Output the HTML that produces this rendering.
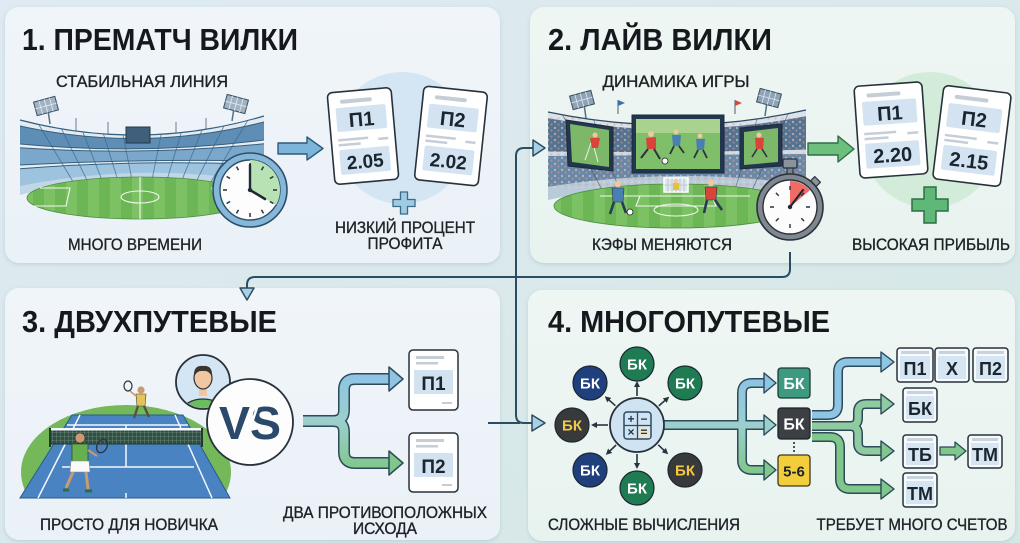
<!DOCTYPE html>
<html><head><meta charset="utf-8"><style>
html,body{margin:0;padding:0;width:1020px;height:543px;overflow:hidden;background:#dde9f0}
svg{display:block}
text{font-family:"Liberation Sans",sans-serif}
.t{font-weight:bold;font-size:31px;fill:#15191d}
.l{font-size:16.5px;fill:#1e2226;stroke:#1e2226;stroke-width:0.35}
.b{font-weight:bold;fill:#1b2530}
.w{font-weight:bold;fill:#fff}
</style></head><body>
<svg width="1020" height="543" viewBox="0 0 1020 543" xmlns="http://www.w3.org/2000/svg">
<defs>
<linearGradient id="bg" x1="0" y1="0" x2="1" y2="1"><stop offset="0" stop-color="#dfeaf2"/><stop offset="1" stop-color="#d5e8e5"/></linearGradient>
<linearGradient id="p1g" x1="0" y1="0" x2="0" y2="1"><stop offset="0" stop-color="#f0f5f9"/><stop offset="1" stop-color="#eaf1f7"/></linearGradient>
<linearGradient id="p2g" x1="0" y1="0" x2="0" y2="1"><stop offset="0" stop-color="#eef6f3"/><stop offset="1" stop-color="#e8f3ef"/></linearGradient>
<linearGradient id="fk3" x1="0" y1="375" x2="0" y2="468" gradientUnits="userSpaceOnUse"><stop offset="0" stop-color="#8ec4e4"/><stop offset="0.5" stop-color="#9ccfcc"/><stop offset="1" stop-color="#80c78c"/></linearGradient>
<linearGradient id="fk4" x1="0" y1="380" x2="0" y2="472" gradientUnits="userSpaceOnUse"><stop offset="0" stop-color="#8ec4e4"/><stop offset="0.5" stop-color="#9ccfcc"/><stop offset="1" stop-color="#80c78c"/></linearGradient>
<filter id="sh" x="-5%" y="-5%" width="110%" height="115%"><feDropShadow dx="0" dy="1.5" stdDeviation="2" flood-color="#6a8aa0" flood-opacity="0.25"/></filter>
<pattern id="stripe" width="22" height="10" patternUnits="userSpaceOnUse"><rect width="11" height="10" fill="#7cc265"/><rect x="11" width="11" height="10" fill="#6db656"/></pattern>
<pattern id="crowd" width="7" height="6" patternUnits="userSpaceOnUse"><circle cx="2" cy="2" r="1.2" fill="#d3dde7"/><circle cx="5.5" cy="4.5" r="1.1" fill="#e59484"/></pattern>
<pattern id="mesh" width="4" height="4" patternUnits="userSpaceOnUse"><rect width="4" height="4" fill="#2f4f42"/><path d="M0,0 H4 M0,0 V4" stroke="#8fa79a" stroke-width="0.6"/></pattern>
<clipPath id="st1"><path d="M20,120 Q142,152 264,116 L264,191 Q142,163 20,195 Z"/></clipPath>
<clipPath id="st2"><path d="M548,112 Q677,139 806,110 L806,198 Q677,171 548,200 Z"/></clipPath>
<clipPath id="tc"><rect x="0" y="380" width="300" height="118"/></clipPath>
<clipPath id="av"><circle cx="203" cy="382" r="26"/></clipPath>
<marker id="ma" markerWidth="6" markerHeight="6" refX="3" refY="3" orient="auto" markerUnits="userSpaceOnUse"><path d="M0,0 L6,3 L0,6 Z" fill="#27343f"/></marker>
</defs>

<rect width="1020" height="543" fill="url(#bg)"/>

<rect x="5" y="7" width="495" height="256" rx="14" fill="url(#p1g)" filter="url(#sh)"/>
<rect x="530" y="7" width="485" height="256" rx="14" fill="url(#p2g)" filter="url(#sh)"/>
<rect x="5" y="288" width="495" height="252" rx="14" fill="url(#p1g)" filter="url(#sh)"/>
<rect x="528" y="290" width="487" height="251" rx="14" fill="url(#p2g)" filter="url(#sh)"/>

<text class="t" x="22" y="50" textLength="276" lengthAdjust="spacingAndGlyphs">1. ПРЕМАТЧ ВИЛКИ</text>
<text class="t" x="548" y="50" textLength="224" lengthAdjust="spacingAndGlyphs">2. ЛАЙВ ВИЛКИ</text>
<text class="t" x="22" y="332" textLength="255" lengthAdjust="spacingAndGlyphs">3. ДВУХПУТЕВЫЕ</text>
<text class="t" x="548" y="332" textLength="282" lengthAdjust="spacingAndGlyphs">4. МНОГОПУТЕВЫЕ</text>

<text class="l" x="142" y="87" text-anchor="middle" textLength="172" lengthAdjust="spacingAndGlyphs">СТАБИЛЬНАЯ ЛИНИЯ</text>
<text class="l" x="135" y="250" text-anchor="middle" textLength="134" lengthAdjust="spacingAndGlyphs">МНОГО ВРЕМЕНИ</text>
<text class="l" x="405" y="233" text-anchor="middle" textLength="140" lengthAdjust="spacingAndGlyphs">НИЗКИЙ ПРОЦЕНТ</text>
<text class="l" x="405" y="249" text-anchor="middle" textLength="75" lengthAdjust="spacingAndGlyphs">ПРОФИТА</text>
<text class="l" x="676" y="87" text-anchor="middle" textLength="147" lengthAdjust="spacingAndGlyphs">ДИНАМИКА ИГРЫ</text>
<text class="l" x="662" y="250" text-anchor="middle" textLength="140" lengthAdjust="spacingAndGlyphs">КЭФЫ МЕНЯЮТСЯ</text>
<text class="l" x="931" y="250" text-anchor="middle" textLength="158" lengthAdjust="spacingAndGlyphs">ВЫСОКАЯ ПРИБЫЛЬ</text>
<text class="l" x="129" y="530" text-anchor="middle" textLength="178" lengthAdjust="spacingAndGlyphs">ПРОСТО ДЛЯ НОВИЧКА</text>
<text class="l" x="385" y="518" text-anchor="middle" textLength="204" lengthAdjust="spacingAndGlyphs">ДВА ПРОТИВОПОЛОЖНЫХ</text>
<text class="l" x="385" y="534" text-anchor="middle" textLength="64" lengthAdjust="spacingAndGlyphs">ИСХОДА</text>
<text class="l" x="644" y="530" text-anchor="middle" textLength="192" lengthAdjust="spacingAndGlyphs">СЛОЖНЫЕ ВЫЧИСЛЕНИЯ</text>
<text class="l" x="912" y="530" text-anchor="middle" textLength="191" lengthAdjust="spacingAndGlyphs">ТРЕБУЕТ МНОГО СЧЕТОВ</text>

<g>
 <line x1="48" y1="110" x2="50" y2="124" stroke="#5b6f80" stroke-width="1.5"/>
 <line x1="234" y1="108" x2="232" y2="121" stroke="#5b6f80" stroke-width="1.5"/>
 <g transform="translate(46,106) rotate(-15)"><rect x="-11" y="-7" width="22" height="14" fill="#9fb3c4" stroke="#3d5060" stroke-width="1"/><path d="M-5.5,-7V7M0,-7V7M5.5,-7V7M-11,0H11" stroke="#e6edf2" stroke-width="0.8"/></g>
 <g transform="translate(236,104) rotate(15)"><rect x="-11" y="-7" width="22" height="14" fill="#9fb3c4" stroke="#3d5060" stroke-width="1"/><path d="M-5.5,-7V7M0,-7V7M5.5,-7V7M-11,0H11" stroke="#e6edf2" stroke-width="0.8"/></g>
 <path d="M76,118V132M108,122V136M176,122V136M206,118V132" stroke="#6b7f90" stroke-width="1"/>
 <g clip-path="url(#st1)">
  <rect x="18" y="110" width="250" height="90" fill="#c0d7e8"/>
  <path d="M20,120 Q142,152 264,116 L264,122 Q142,152.9 20,126 Z" fill="#e3eaf0"/>
  <path d="M20,126 Q142,152.9 264,122 L264,140 Q142,155.5 20,144 Z" fill="#5e8db5"/>
  <path d="M20,144 Q142,155.5 264,140 L264,143.8 Q142,156.1 20,147.8 Z" fill="#e8eef3"/>
  <path d="M20,147.8 Q142,156.1 264,143.8 L264,161 Q142,158.6 20,165 Z" fill="#7ba7cb"/>
  <path d="M20,165 Q142,158.6 264,161 L264,164.8 Q142,159.2 20,168.8 Z" fill="#e8eef3"/>
  <path d="M20,168.8 Q142,159.2 264,164.8 L264,182 Q142,161.7 20,186 Z" fill="#9ec3df"/>
  <g stroke="#3b6a8f" stroke-width="0.9" opacity="0.75">
   <path d="M30,110L84,200M52,110L97,200M74,110L110,200M96,110L124,200M118,110L136,200M166,110L148,200M188,110L161,200M210,110L174,200M232,110L187,200M254,110L200,200"/>
  </g>
  <g fill="none" stroke="#35607f" stroke-width="1">
   <path d="M20,126 Q142,152.9 264,122"/><path d="M20,144 Q142,155.5 264,140"/><path d="M20,147.8 Q142,156.1 264,143.8"/><path d="M20,165 Q142,158.6 264,161"/><path d="M20,168.8 Q142,159.2 264,164.8"/>
  </g>
 </g>
 <path d="M20,120 Q142,152 264,116" fill="none" stroke="#35607f" stroke-width="1.2"/>
 <rect x="126" y="127" width="24" height="16" fill="#3f5f7a" stroke="#22384a" stroke-width="1"/>
 <ellipse cx="140" cy="198" rx="113" ry="21" fill="url(#stripe)" stroke="#4e8d3e" stroke-width="0.8"/>
 <g fill="none" stroke="#f2f7ee" stroke-width="1.1">
  <line x1="140" y1="177" x2="140" y2="219"/>
  <ellipse cx="140" cy="197" rx="19" ry="6"/>
  <path d="M40,188 H70 L66,206 H34"/><path d="M240,188 H212 L216,206 H246"/>
 </g>
</g>
<g>
 <circle cx="250" cy="190" r="37" fill="#86b6d8" stroke="#2c4f6a" stroke-width="1.6"/>
 <circle cx="250" cy="190" r="30" fill="#fdfdfd" stroke="#2c4f6a" stroke-width="1.4"/>
 <path d="M250,190 L250,160 A30,30 0 0 1 276,205 Z" fill="#b9e2b4"/>
 <g stroke="#27313b" stroke-width="1.5">
  <path d="M250,167V163M261.5,170.1L263.5,166.6M269.9,178.5L273.4,176.5M273,190H277M269.9,201.5L273.4,203.5M261.5,209.9L263.5,213.4M250,213V217M238.5,209.9L236.5,213.4M230.1,201.5L226.6,203.5M227,190H223M230.1,178.5L226.6,176.5M238.5,170.1L236.5,166.6"/>
 </g>
 <line x1="250" y1="190" x2="250" y2="165" stroke="#1e2a36" stroke-width="2.4" stroke-linecap="round"/>
 <line x1="250" y1="190" x2="265" y2="199" stroke="#1e2a36" stroke-width="2.6" stroke-linecap="round"/>
 <circle cx="250" cy="190" r="2.2" fill="#1e2a36"/>
</g>
<polygon points="278,143 307,143 307,137 323,148.5 307,160 307,154 278,154" fill="#7db4da" stroke="#2f5a78" stroke-width="1.4" stroke-linejoin="round"/>
<circle cx="402" cy="138" r="66" fill="#d4e5f3"/>
<g transform="translate(363,136) rotate(-5)">
 <rect x="-32" y="-46" width="64" height="92" rx="5" fill="#fff" stroke="#27313b" stroke-width="1.6"/>
 <rect x="-20" y="-38" width="32" height="4" rx="2" fill="#c5ced6"/>
 <rect x="-25" y="-30" width="50" height="24" rx="2" fill="#d3e3f1"/>
 <text x="0" y="-10" text-anchor="middle" class="b" font-size="20">П1</text>
 <rect x="-25" y="1" width="30" height="2.5" fill="#c5ced6"/><rect x="-25" y="6" width="22" height="2.5" fill="#c5ced6"/><rect x="15" y="3" width="10" height="2.5" fill="#c5ced6"/>
 <rect x="-25" y="12" width="50" height="25" rx="2" fill="#d3e3f1"/>
 <text x="0" y="32" text-anchor="middle" class="b" font-size="19">2.05</text>
</g>
<g transform="translate(451,136) rotate(6)">
 <rect x="-32" y="-47" width="64" height="94" rx="5" fill="#fff" stroke="#27313b" stroke-width="1.6"/>
 <rect x="-20" y="-39" width="32" height="4" rx="2" fill="#c5ced6"/>
 <rect x="-25" y="-30" width="50" height="24" rx="2" fill="#d3e3f1"/>
 <text x="0" y="-10" text-anchor="middle" class="b" font-size="20">П2</text>
 <rect x="-25" y="1" width="30" height="2.5" fill="#c5ced6"/><rect x="-25" y="6" width="22" height="2.5" fill="#c5ced6"/><rect x="15" y="3" width="10" height="2.5" fill="#c5ced6"/>
 <rect x="-25" y="12" width="50" height="25" rx="2" fill="#d3e3f1"/>
 <text x="0" y="32" text-anchor="middle" class="b" font-size="19">2.02</text>
</g>
<path d="M400.5,192 h7 v7.5 h7.5 v7 h-7.5 v7.5 h-7 v-7.5 h-7.5 v-7 h7.5 z" fill="#9fcbe3" stroke="#3b6b86" stroke-width="1.3"/>

<g>
 <line x1="584" y1="104" x2="586" y2="118" stroke="#5b6f80" stroke-width="1.5"/>
 <line x1="767" y1="102" x2="765" y2="116" stroke="#5b6f80" stroke-width="1.5"/>
 <g transform="translate(582,100) rotate(-15)"><rect x="-11" y="-7" width="22" height="14" fill="#8ea3b6" stroke="#3b4d5e"/><path d="M-5.5,-7V7M0,-7V7M5.5,-7V7M-11,0H11" stroke="#e0e8ee" stroke-width="0.8"/></g>
 <g transform="translate(769,98) rotate(15)"><rect x="-11" y="-7" width="22" height="14" fill="#8ea3b6" stroke="#3b4d5e"/><path d="M-5.5,-7V7M0,-7V7M5.5,-7V7M-11,0H11" stroke="#e0e8ee" stroke-width="0.8"/></g>
 <path d="M618,114V100M735,114V100" stroke="#4a5b6a" stroke-width="1"/>
 <path d="M618,100L625,103L618,106Z" fill="#3a6fa8"/><path d="M735,100L742,103L735,106Z" fill="#d24a3e"/>
 <g clip-path="url(#st2)">
  <rect x="546" y="105" width="262" height="100" fill="#b9cbd9"/>
  <path d="M548,112 Q677,139 806,110 L806,116.2 Q677,141.2 548,118.2 Z" fill="#dbe3ea"/>
  <path d="M548,118.2 Q677,141.2 806,116.2 L806,149.6 Q677,153.4 548,151.6 Z" fill="#55728f"/>
  <path d="M548,151.6 Q677,153.4 806,149.6 L806,154 Q677,155 548,156 Z" fill="#d0dbe4"/>
  <path d="M548,156 Q677,155 806,154 L806,184.8 Q677,166.2 548,186.8 Z" fill="#6a88a6"/>
  <rect x="546" y="116" width="262" height="72" fill="url(#crowd)" opacity="0.55"/>
  <g stroke="#2f4a63" stroke-width="0.8" opacity="0.6"><path d="M560,110L610,205M590,110L625,205M760,110L730,205M790,110L745,205"/></g>
 </g>
 <path d="M548,112 Q677,139 806,110" fill="none" stroke="#2f4a63" stroke-width="1.2"/>
 <polygon points="566,120 613,127 613,171 568,166" fill="#22374d" stroke="#1a2b3c" stroke-width="1"/>
 <polygon points="570,124 609,130 609,167 572,162" fill="#7db868"/>
 <path d="M585,160 L592,140 L598,162" stroke="#f0f0f0" stroke-width="1" fill="none"/>
 <circle cx="595" cy="135" r="2.5" fill="#f0c7a0"/><path d="M590,138 L600,138 L598,148 L592,148Z" fill="#d9443a"/>
 <rect x="632" y="115" width="92" height="58" fill="#22374d" stroke="#1a2b3c" stroke-width="1"/>
 <rect x="636" y="119" width="84" height="50" fill="#7fbf6a"/>
 <rect x="636" y="119" width="84" height="14" fill="#a9d28f"/>
 <g>
  <circle cx="651" cy="134" r="3" fill="#f0c7a0"/><path d="M646,138 L656,137 L656,149 L647,149Z" fill="#d9443a"/>
  <path d="M648,149 L641,158 M654,149 L660,159" stroke="#2a3440" stroke-width="2"/>
  <circle cx="676" cy="132" r="2.5" fill="#f0c7a0"/><path d="M672,135 L681,135 L680,146 L673,146Z" fill="#4a7fb5"/>
  <path d="M674,146 L670,154 M679,146 L684,153" stroke="#2a3440" stroke-width="1.8"/>
  <circle cx="700" cy="136" r="2.5" fill="#f0c7a0"/><path d="M696,139 L705,139 L704,150 L697,150Z" fill="#4a7fb5"/>
  <path d="M698,150 L694,158 M703,150 L707,158" stroke="#2a3440" stroke-width="1.8"/>
  <circle cx="665" cy="161" r="3" fill="#fff" stroke="#222" stroke-width="0.8"/>
 </g>
 <polygon points="740,128 782,124 782,166 740,169" fill="#22374d" stroke="#1a2b3c" stroke-width="1"/>
 <polygon points="744,132 778,128 778,162 744,165" fill="#7db868"/>
 <circle cx="759" cy="135" r="2.5" fill="#f0c7a0"/><path d="M755,138 L764,138 L763,149 L756,149Z" fill="#d9443a"/>
 <path d="M757,149 L752,157 M762,149 L767,157" stroke="#2a3440" stroke-width="1.6"/>
 <ellipse cx="676" cy="206" rx="122" ry="22" fill="url(#stripe)" stroke="#4e8d3e" stroke-width="0.8"/>
 <g fill="none" stroke="#f2f7ee" stroke-width="1.1">
  <ellipse cx="676" cy="210" rx="22" ry="6"/><path d="M600,196 H750 M640,196 L636,206 H716 L712,196"/>
 </g>
 <rect x="664" y="178" width="24" height="14" fill="#dfe7ec" stroke="#fff" stroke-width="1.5"/>
 <path d="M668,178V192M672,178V192M676,178V192M680,178V192M684,178V192M664,185H688" stroke="#a6b4bf" stroke-width="0.6"/>
 <circle cx="676" cy="181" r="2.3" fill="#f0c7a0"/><rect x="673" y="183" width="6" height="7" fill="#e3c13d"/>
 <circle cx="618" cy="184" r="3.2" fill="#f0c7a0"/><path d="M612,188 L624,188 L623,202 L613,202Z" fill="#4a7fb5" stroke="#2a3440" stroke-width="0.6"/>
 <path d="M614,202 L610,214 M622,202 L626,213" stroke="#2a3a55" stroke-width="2.6"/>
 <circle cx="630" cy="212" r="3" fill="#fff" stroke="#222" stroke-width="0.8"/>
 <circle cx="711" cy="183" r="3.2" fill="#f0c7a0"/><path d="M705,187 L717,187 L716,200 L706,200Z" fill="#d9443a" stroke="#2a3440" stroke-width="0.6"/>
 <path d="M707,200 L704,213 M715,200 L722,210" stroke="#2a3a55" stroke-width="2.6"/>
</g>
<g>
 <rect x="783" y="159" width="14" height="9" rx="1.5" fill="#8a939c" stroke="#2b3238" stroke-width="1.3"/>
 <rect x="787" y="168" width="6" height="7" fill="#7c858e" stroke="#2b3238" stroke-width="1.2"/>
 <g transform="rotate(45 790 207)"><rect x="786" y="168" width="8" height="6" fill="#8a939c" stroke="#2b3238" stroke-width="1.2"/></g>
 <circle cx="790" cy="207" r="33" fill="#7f8891" stroke="#2b3238" stroke-width="1.6"/>
 <circle cx="790" cy="207" r="27" fill="#fcfcfc" stroke="#2b3238" stroke-width="1.4"/>
 <path d="M790,207 L790,181 A26,26 0 0 1 809.9,190.3 Z" fill="#ef6b63"/>
 <g stroke="#27313b" stroke-width="1.4">
  <path d="M790,186V190M810,207H806M790,228V224M770,207H774M804.1,192.9L801.3,195.7M804.1,221.1L801.3,218.3M775.9,221.1L778.7,218.3M775.9,192.9L778.7,195.7"/>
 </g>
 <line x1="790" y1="207" x2="803" y2="190" stroke="#1e2a36" stroke-width="2.2" stroke-linecap="round"/>
 <circle cx="790" cy="207" r="2.2" fill="#1e2a36"/>
</g>
<polygon points="808,143 838,143 838,136 854,149 838,162 838,155 808,155" fill="#6dbf7e" stroke="#2e6e44" stroke-width="1.4" stroke-linejoin="round"/>
<circle cx="930" cy="140" r="68" fill="#d3ecd9"/>
<g transform="translate(891,130) rotate(-4)">
 <rect x="-34" y="-46" width="68" height="92" rx="5" fill="#fff" stroke="#27313b" stroke-width="1.6"/>
 <rect x="-22" y="-38" width="34" height="4" rx="2" fill="#c5ced6"/>
 <rect x="-27" y="-30" width="54" height="24" rx="2" fill="#d3e3f1"/>
 <text x="0" y="-10" text-anchor="middle" class="b" font-size="20">П1</text>
 <rect x="-27" y="1" width="32" height="2.5" fill="#c5ced6"/><rect x="-27" y="6" width="24" height="2.5" fill="#c5ced6"/><rect x="16" y="3" width="11" height="2.5" fill="#c5ced6"/>
 <rect x="-27" y="12" width="54" height="25" rx="2" fill="#d3e3f1"/>
 <text x="0" y="32" text-anchor="middle" class="b" font-size="20">2.20</text>
</g>
<g transform="translate(972,136) rotate(7)">
 <rect x="-34" y="-47" width="68" height="94" rx="5" fill="#fff" stroke="#27313b" stroke-width="1.6"/>
 <rect x="-22" y="-39" width="34" height="4" rx="2" fill="#c5ced6"/>
 <rect x="-27" y="-30" width="54" height="24" rx="2" fill="#d3e3f1"/>
 <text x="0" y="-10" text-anchor="middle" class="b" font-size="20">П2</text>
 <rect x="-27" y="1" width="32" height="2.5" fill="#c5ced6"/><rect x="-27" y="6" width="24" height="2.5" fill="#c5ced6"/><rect x="16" y="3" width="11" height="2.5" fill="#c5ced6"/>
 <rect x="-27" y="12" width="54" height="25" rx="2" fill="#d3e3f1"/>
 <text x="0" y="32" text-anchor="middle" class="b" font-size="20">2.15</text>
</g>
<path d="M924,187 h12 v12 h12 v12 h-12 v12 h-12 v-12 h-12 v-12 h12 z" fill="#5fb877" stroke="#2f6e45" stroke-width="1.5"/>

<g clip-path="url(#tc)"><ellipse cx="126" cy="472" rx="105" ry="67" fill="#74b85a"/></g>
<polygon points="72,415 183,415 230,498 20,498" fill="#4a83c2" stroke="#2b5a8a" stroke-width="1"/>
<g stroke="#f4f8fc" stroke-width="1.5" fill="none">
 <path d="M80,415 L38,498 M175,415 L212,498"/>
 <path d="M67,425 H188 M62,467 H194 M126,425 V467 M126,493 V498"/>
</g>
<rect x="50" y="429" width="152" height="15" fill="url(#mesh)" stroke="#1f3a2e" stroke-width="1"/>
<rect x="50" y="428" width="152" height="2.5" fill="#f4f8fc"/>
<path d="M50,428V447M202,428V447" stroke="#1f3a2e" stroke-width="2"/>
<circle cx="141" cy="390" r="3.6" fill="#c99a74"/>
<path d="M136,394 L146,394 L145,406 L137,406Z" fill="#e2c45b" stroke="#4a4030" stroke-width="0.6"/>
<path d="M138,406 L134,418 M144,406 L149,417" stroke="#5b5040" stroke-width="2.4"/>
<path d="M136,396 L130,391" stroke="#c99a74" stroke-width="1.6"/>
<ellipse cx="128" cy="386" rx="4" ry="5" fill="none" stroke="#2a3440" stroke-width="1.2"/>
<circle cx="80" cy="438" r="5" fill="#c99a74" stroke="#3a3028" stroke-width="0.6"/>
<path d="M72,444 L88,444 L88,462 L72,462Z" fill="#66b04f" stroke="#2e4d27" stroke-width="0.8"/>
<path d="M71,461 L89,461 L90,472 L70,472Z" fill="#fafafa" stroke="#8b8b8b" stroke-width="0.6"/>
<path d="M73,472 L66,488 M86,472 L88,489" stroke="#c99a74" stroke-width="3"/>
<path d="M63,490 H69 M85,491 H92" stroke="#2f6e45" stroke-width="3"/>
<path d="M88,450 L97,456" stroke="#c99a74" stroke-width="2"/>
<ellipse cx="102" cy="446" rx="5" ry="7" transform="rotate(25 102 446)" fill="none" stroke="#2a3440" stroke-width="1.3"/>
<circle cx="203" cy="382" r="27" fill="#d4e5f3" stroke="#27313b" stroke-width="1.8"/>
<g clip-path="url(#av)">
 <ellipse cx="203" cy="412" rx="21" ry="13" fill="#6cbd5e" stroke="#27313b" stroke-width="1.2"/>
 <rect x="199" y="388" width="8" height="8" fill="#f0c7a0"/>
</g>
<ellipse cx="203" cy="378" rx="9" ry="11" fill="#f0c7a0" stroke="#27313b" stroke-width="1.2"/>
<path d="M194,377 Q193,365 203,366 Q213,365 212,377 Q209,370 203,371 Q197,370 194,377Z" fill="#3b3530"/>
<circle cx="250" cy="422" r="43" fill="#fdfdfd" stroke="#27313b" stroke-width="1.8"/>
<text x="250" y="439" text-anchor="middle" font-size="46" font-weight="bold" fill="#2b4a6b" textLength="62" lengthAdjust="spacingAndGlyphs">VS</text>
<line x1="262" y1="393" x2="242" y2="452" stroke="#fdfdfd" stroke-width="2.5"/>
<g fill="none" stroke-linejoin="round">
 <path d="M303,421 H333 Q344,421 344,410 V390 Q344,379 355,379 H392 M333,421 Q344,421 344,432 V452 Q344,463 355,463 H392" stroke="#2d4a5a" stroke-width="12"/>
 <path d="M303,421 H333 Q344,421 344,410 V390 Q344,379 355,379 H393 M333,421 Q344,421 344,432 V452 Q344,463 355,463 H393" stroke="url(#fk3)" stroke-width="9"/>
</g>
<polygon points="389,367 403,379 389,391" fill="#8ec4e4" stroke="#2d4a5a" stroke-width="1.5" stroke-linejoin="round"/>
<polygon points="389,451 403,463 389,475" fill="#80c78c" stroke="#2d4a5a" stroke-width="1.5" stroke-linejoin="round"/>
<g>
 <rect x="409" y="350" width="49" height="60" rx="4" fill="#fff" stroke="#27313b" stroke-width="1.5"/>
 <rect x="416" y="356" width="28" height="3" fill="#c5ced6"/><rect x="416" y="362" width="22" height="2.5" fill="#c5ced6"/>
 <rect x="414" y="370" width="39" height="24" fill="#d2e2f0"/>
 <text x="433.5" y="390" text-anchor="middle" class="b" font-size="19">П1</text>
 <rect x="442" y="402" width="10" height="2" fill="#c5ced6"/>
 <rect x="409" y="433" width="49" height="59" rx="4" fill="#fff" stroke="#27313b" stroke-width="1.5"/>
 <rect x="416" y="439" width="28" height="3" fill="#c5ced6"/><rect x="416" y="445" width="22" height="2.5" fill="#c5ced6"/>
 <rect x="414" y="453" width="39" height="24" fill="#d2e2f0"/>
 <text x="433.5" y="473" text-anchor="middle" class="b" font-size="19">П2</text>
 <rect x="442" y="484" width="10" height="2" fill="#c5ced6"/>
</g>

<g fill="none" stroke-linejoin="round">
 <path d="M660,425 H767 M742,425 V393 Q742,383 752,383 H767 M742,425 V460 Q742,470 752,470 H767" stroke="#2d4a5a" stroke-width="10"/>
 <path d="M660,425 H768 M742,425 V393 Q742,383 752,383 H768 M742,425 V460 Q742,470 752,470 H768" stroke="url(#fk4)" stroke-width="7"/>
</g>
<polygon points="764,373 776,383 764,393" fill="#8ec4e4" stroke="#2d4a5a" stroke-width="1.4" stroke-linejoin="round"/>
<polygon points="764,415 776,425 764,435" fill="#9ccfcc" stroke="#2d4a5a" stroke-width="1.4" stroke-linejoin="round"/>
<polygon points="764,460 776,470 764,480" fill="#80c78c" stroke="#2d4a5a" stroke-width="1.4" stroke-linejoin="round"/>
<g stroke="#27343f" stroke-width="1.6" marker-end="url(#ma)">
 <line x1="637" y1="396" x2="637" y2="384"/>
 <line x1="658.8" y1="405.9" x2="667" y2="398.7"/>
 <line x1="658.2" y1="444.8" x2="666" y2="452.2"/>
 <line x1="637" y1="454" x2="637" y2="466"/>
 <line x1="616.1" y1="445" x2="608" y2="452.8"/>
 <line x1="608" y1="425" x2="594" y2="425"/>
 <line x1="615.4" y1="405.7" x2="607" y2="398.2"/>
</g>
<circle cx="637" cy="425" r="27" fill="#cfe3f3" stroke="#27313b" stroke-width="1.8"/>
<rect x="624" y="412" width="27" height="27" rx="3" fill="#cfe3f3" stroke="#2b4a63" stroke-width="1.5"/>
<path d="M637.5,412V439M624,425.5H651" stroke="#2b4a63" stroke-width="1.3"/>
<rect x="638.5" y="426.5" width="11.5" height="11.5" fill="#e9e5cf"/>
<g font-family="Liberation Sans" font-weight="bold" font-size="12" fill="#1f3550" text-anchor="middle">
 <text x="631" y="423">+</text><text x="644" y="423">−</text><text x="631" y="436">×</text><text x="644" y="436">=</text>
</g>
<g stroke="#1c2630" stroke-width="1.2">
 <circle cx="637" cy="364" r="17" fill="#1f7b52"/>
 <circle cx="685" cy="383" r="17" fill="#1f7b52"/>
 <circle cx="685" cy="470" r="17" fill="#38393b"/>
 <circle cx="637" cy="488" r="17" fill="#1f7b52"/>
 <circle cx="590" cy="470" r="17" fill="#1f3f7d"/>
 <circle cx="572" cy="425" r="17" fill="#38393b"/>
 <circle cx="590" cy="383" r="17" fill="#1f3f7d"/>
</g>
<g font-family="Liberation Sans" font-weight="bold" font-size="15" text-anchor="middle">
 <text x="637" y="369.5" fill="#fff">БК</text>
 <text x="685" y="388.5" fill="#fff">БК</text>
 <text x="685" y="475.5" fill="#f5c842">БК</text>
 <text x="637" y="493.5" fill="#fff">БК</text>
 <text x="590" y="475.5" fill="#fff">БК</text>
 <text x="572" y="430.5" fill="#f5c842">БК</text>
 <text x="590" y="388.5" fill="#fff">БК</text>
</g>
<rect x="778" y="368" width="32" height="30" rx="3" fill="#3c9a80" stroke="#1f3a33" stroke-width="1.3"/>
<text x="794" y="389" text-anchor="middle" class="w" font-size="16">БК</text>
<rect x="778" y="408" width="32" height="31" rx="3" fill="#3c4045" stroke="#1c2126" stroke-width="1.3"/>
<text x="794" y="429.5" text-anchor="middle" class="w" font-size="16">БК</text>
<path d="M794,442V453" stroke="#3c4045" stroke-width="1.8" stroke-dasharray="2,2"/>
<rect x="778" y="455" width="32" height="31" rx="3" fill="#f2cd3c" stroke="#3d3520" stroke-width="1.3"/>
<text x="794" y="476.5" text-anchor="middle" class="b" font-size="15">5-6</text>
<g fill="none" stroke-linejoin="round">
 <path d="M812,415 H828 Q838,415 838,405 V372 Q838,362 848,362 H884" stroke="#2d4a5a" stroke-width="10"/>
 <path d="M812,415 H828 Q838,415 838,405 V372 Q838,362 848,362 H885" stroke="#8ec4e4" stroke-width="7"/>
 <path d="M812,426 H850 Q858,426 858,418 V412 Q858,404 866,404 H884 M850,426 Q858,426 858,434 V443 Q858,451 866,451 H884" stroke="#2d4a5a" stroke-width="10"/>
 <path d="M812,426 H850 Q858,426 858,418 V412 Q858,404 866,404 H885 M850,426 Q858,426 858,434 V443 Q858,451 866,451 H885" stroke="#8fcaa0" stroke-width="7"/>
 <path d="M812,437 H830 Q840,437 840,447 V479 Q840,489 850,489 H884" stroke="#2d4a5a" stroke-width="10"/>
 <path d="M812,437 H830 Q840,437 840,447 V479 Q840,489 850,489 H885" stroke="#80c78c" stroke-width="7"/>
</g>
<polygon points="881,352 894,362 881,372" fill="#8ec4e4" stroke="#2d4a5a" stroke-width="1.4" stroke-linejoin="round"/>
<polygon points="881,394 894,404 881,414" fill="#8fcaa0" stroke="#2d4a5a" stroke-width="1.4" stroke-linejoin="round"/>
<polygon points="881,441 894,451 881,461" fill="#80c78c" stroke="#2d4a5a" stroke-width="1.4" stroke-linejoin="round"/>
<polygon points="881,479 894,489 881,499" fill="#80c78c" stroke="#2d4a5a" stroke-width="1.4" stroke-linejoin="round"/>
<polygon points="940,447 955,447 955,442 966,451 955,460 955,455 940,455" fill="#80c78c" stroke="#2d4a5a" stroke-width="1.3" stroke-linejoin="round"/>
<g>
 <rect x="897" y="348" width="36" height="34" rx="3" fill="#f7fafc" stroke="#27313b" stroke-width="1.5"/><rect x="901" y="351" width="28" height="3" fill="#c9d3db"/><rect x="900" y="356" width="30" height="23" fill="#d5e5f2"/>
 <text x="915" y="375" text-anchor="middle" class="b" font-size="18">П1</text>
 <rect x="935" y="348" width="34" height="34" rx="3" fill="#f7fafc" stroke="#27313b" stroke-width="1.5"/><rect x="939" y="351" width="26" height="3" fill="#c9d3db"/><rect x="938" y="356" width="28" height="23" fill="#d5e5f2"/>
 <text x="952" y="375" text-anchor="middle" class="b" font-size="18">X</text>
 <rect x="973" y="348" width="35" height="34" rx="3" fill="#f7fafc" stroke="#27313b" stroke-width="1.5"/><rect x="977" y="351" width="27" height="3" fill="#c9d3db"/><rect x="976" y="356" width="29" height="23" fill="#d5e5f2"/>
 <text x="990.5" y="375" text-anchor="middle" class="b" font-size="18">П2</text>
 <rect x="903" y="388" width="34" height="34" rx="3" fill="#f7fafc" stroke="#27313b" stroke-width="1.5"/><rect x="907" y="391" width="26" height="3" fill="#c9d3db"/><rect x="906" y="396" width="28" height="23" fill="#d5e5f2"/>
 <text x="920" y="415" text-anchor="middle" class="b" font-size="18">БК</text>
 <rect x="903" y="435" width="34" height="33" rx="3" fill="#f7fafc" stroke="#27313b" stroke-width="1.5"/><rect x="907" y="438" width="26" height="3" fill="#c9d3db"/><rect x="906" y="443" width="28" height="22" fill="#d5e5f2"/>
 <text x="920" y="461" text-anchor="middle" class="b" font-size="18">ТБ</text>
 <rect x="968" y="435" width="34" height="33" rx="3" fill="#f7fafc" stroke="#27313b" stroke-width="1.5"/><rect x="972" y="438" width="26" height="3" fill="#c9d3db"/><rect x="971" y="443" width="28" height="22" fill="#d5e5f2"/>
 <text x="985" y="461" text-anchor="middle" class="b" font-size="18">ТМ</text>
 <rect x="903" y="473" width="34" height="34" rx="3" fill="#f7fafc" stroke="#27313b" stroke-width="1.5"/><rect x="907" y="476" width="26" height="3" fill="#c9d3db"/><rect x="906" y="481" width="28" height="23" fill="#d5e5f2"/>
 <text x="920" y="500" text-anchor="middle" class="b" font-size="18">ТМ</text>
</g>

<g fill="none" stroke="#2a4d63" stroke-width="2">
 <path d="M790,252 V269 Q790,277 782,277 H255 Q247,277 247,285 V290"/>
 <path d="M536,148 H524 Q516,148 516,156 V415 Q516,423 524,423 H534"/>
 <path d="M488,423 H520"/>
</g>
<polygon points="240,288 254,288 247,300" fill="#a9d0e6" stroke="#2a4d63" stroke-width="1.5" stroke-linejoin="round"/>
<polygon points="533,140 545,148 533,156" fill="#a9d0e6" stroke="#2a4d63" stroke-width="1.5" stroke-linejoin="round"/>
<polygon points="532,415 545,423 532,431" fill="#a9d0e6" stroke="#2a4d63" stroke-width="1.5" stroke-linejoin="round"/>
</svg>
</body></html>
